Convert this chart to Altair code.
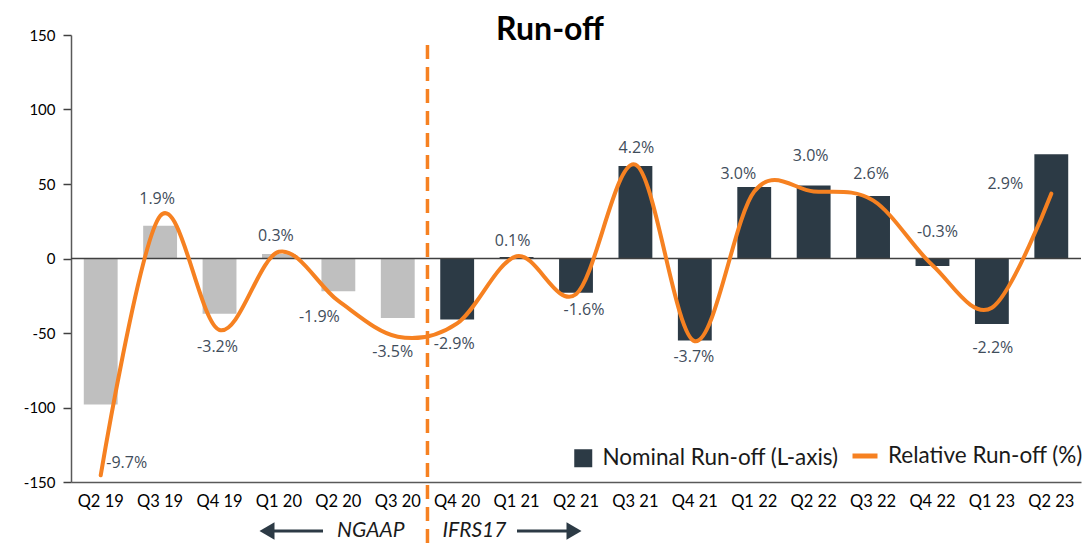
import altair as alt
import pandas as pd

# ---- data ----
quarters = ["Q2 19", "Q3 19", "Q4 19", "Q1 20", "Q2 20", "Q3 20", "Q4 20", "Q1 21", "Q2 21",
            "Q3 21", "Q4 21", "Q1 22", "Q2 22", "Q3 22", "Q4 22", "Q1 23", "Q2 23"]
nominal = [-98, 22, -37, 3, -22, -40, -41, 1, -23, 62, -55, 48, 49, 42, -5, -44, 70]
relative = [-9.7, 1.9, -3.2, 0.3, -1.9, -3.5, -2.9, 0.1, -1.6, 4.2, -3.7, 3.0, 3.0, 2.6, -0.3, -2.2, 2.9]
regime = ["NGAAP", "NGAAP", "NGAAP", "NGAAP", "NGAAP", "NGAAP", "IFRS17", "IFRS17", "IFRS17",
          "IFRS17", "IFRS17", "IFRS17", "IFRS17", "IFRS17", "IFRS17", "IFRS17", "IFRS17"]
first_ifrs17 = "Q4 20"

df = pd.DataFrame({"q": quarters, "nom": nominal, "rel": relative, "regime": regime})

# ---- style ----
DARK = "#2c3a45"
GREY = "#bfbfbf"
ORANGE = "#f68121"
LABEL_COLOR = "#3f4d5b"
FONT = "Lato"
PAD_IN = 0.43
label_offsets = [(26, -12), (-3, -17), (-2, 17), (-3, -16), (-19, 16), (-5, 15), (-3, 21),
                 (-4, -15), (8, 16), (1, -17), (-1, 16), (-16, -17), (-3, -35), (-2, -26),
                 (5, -33), (1, 40), (-46, -10)]

xscale = alt.Scale(domain=quarters, paddingInner=PAD_IN, paddingOuter=PAD_IN / 2)
xaxis = alt.Axis(title=None, ticks=False, domainColor="#595959", domainWidth=1.5,
                 labelFont=FONT, labelFontSize=16.5, labelColor="black", labelPadding=11,
                 labelAngle=0)


def X(**kw):
    return alt.X("q:N", scale=xscale, axis=xaxis, **kw)


yL = alt.Scale(domain=[-150, 150], nice=False, zero=False)
yR = alt.Scale(domain=[-10, 10], nice=False, zero=False)

base = alt.Chart(df)

legend_common = dict(title=None, orient="none", labelFont=FONT, labelFontSize=22.5,
                     labelColor="#1a1a1a", labelOffset=8, padding=0, labelLimit=400)

bars = base.mark_bar().encode(
    x=X(),
    y=alt.Y("nom:Q", scale=yL,
            axis=alt.Axis(title=None, values=[-150, -100, -50, 0, 50, 100, 150], grid=False,
                          domainColor="#595959", domainWidth=1.5, tickColor="#404040",
                          tickWidth=1.5, tickSize=8, labelFont=FONT, labelFontSize=15,
                          labelColor="black", labelPadding=8,
                          labelExpr="'' + datum.value")),
    color=alt.Color("regime:N",
                    scale=alt.Scale(domain=["NGAAP", "IFRS17"], range=[GREY, DARK]),
                    legend=alt.Legend(values=["IFRS17"], labelExpr="'Nominal Run-off (L-axis)'",
                                      legendX=501, legendY=412, symbolType="square",
                                      symbolSize=324, symbolStrokeWidth=0, **legend_common)),
)

zero = alt.Chart(pd.DataFrame({"z": [0]})).mark_rule(color="#404040", strokeWidth=1.5).encode(
    y=alt.Y("z:Q", scale=yL, axis=None))

line = base.transform_calculate(series="'Relative Run-off (%)'").mark_line(
    interpolate="cardinal", tension=0, strokeWidth=4, strokeCap="round").encode(
    x=X(),
    y=alt.Y("rel:Q", scale=yR, axis=None),
    stroke=alt.Stroke("series:N", scale=alt.Scale(domain=["Relative Run-off (%)"], range=[ORANGE]),
                      legend=alt.Legend(legendX=779, legendY=406, symbolType="stroke",
                                        symbolSize=625, symbolStrokeWidth=5, **legend_common)),
)

texts = []
for q, (dx, dy) in zip(quarters, label_offsets):
    texts.append(
        base.transform_filter(alt.datum.q == q)
        .transform_calculate(lab="(datum.rel < 0 ? '-' : '') + format(abs(datum.rel), '.1f') + '%'")
        .mark_text(dx=dx, dy=dy, font="Open Sans", fontSize=16, color=LABEL_COLOR,
                   align="center", baseline="middle")
        .encode(x=X(), y=alt.Y("rel:Q", scale=yR, axis=None), text="lab:N")
    )

pct_layer = alt.layer(line, *texts)
main = alt.layer(bars, zero, pct_layer).resolve_scale(y="independent")

# divider between the two accounting regimes (on a slot-index scale: slot boundary)
divider_df = pd.DataFrame({"pos": [quarters.index(first_ifrs17)]})
slot = alt.Scale(domain=[0, len(quarters)], nice=False, zero=False)
XS = alt.X("pos:Q", scale=slot, axis=None)
annot_base = alt.Chart(divider_df)

ANN_Y = 496
divider = annot_base.mark_rule(color=ORANGE, strokeWidth=3.5, strokeDash=[14, 8]).encode(
    x=XS, y=alt.value(10), y2=alt.value(520))
ngaap = annot_base.mark_text(text="NGAAP", font=FONT, fontSize=21, fontStyle="italic",
                             align="right", baseline="middle", dx=-23, color="#1a1a1a").encode(
    x=XS, y=alt.value(ANN_Y))
ifrs = annot_base.mark_text(text="IFRS17", font=FONT, fontSize=21, fontStyle="italic",
                            align="left", baseline="middle", dx=15, color="#1a1a1a").encode(
    x=XS, y=alt.value(ANN_Y))
arr_l = annot_base.mark_rule(color=DARK, strokeWidth=3).encode(
    x=alt.value(195), x2=alt.value(252), y=alt.value(ANN_Y))
head_l = annot_base.mark_point(shape="triangle-left", size=300, filled=True,
                               color=DARK, opacity=1).encode(x=alt.value(196), y=alt.value(ANN_Y))
arr_r = annot_base.mark_rule(color=DARK, strokeWidth=3).encode(
    x=alt.value(446), x2=alt.value(504), y=alt.value(ANN_Y))
head_r = annot_base.mark_point(shape="triangle-right", size=300, filled=True,
                               color=DARK, opacity=1).encode(x=alt.value(503), y=alt.value(ANN_Y))
title = annot_base.mark_text(text="Run-off", font=FONT, fontSize=32, fontWeight="bold",
                             color="black", align="center", baseline="alphabetic").encode(
    x=alt.value(479), y=alt.value(5))

annot = alt.layer(divider, ngaap, ifrs, arr_l, head_l, arr_r, head_r, title)

chart = alt.layer(main, annot).resolve_scale(x="independent", y="independent").properties(
    width=1010, height=447,
    autosize=alt.AutoSizeParams(type="none"),
    padding={"left": 63, "top": 27, "right": 3, "bottom": 63},
).configure_view(stroke=None)

chart.save("out.html", embed_options={"renderer": "svg", "actions": False})
